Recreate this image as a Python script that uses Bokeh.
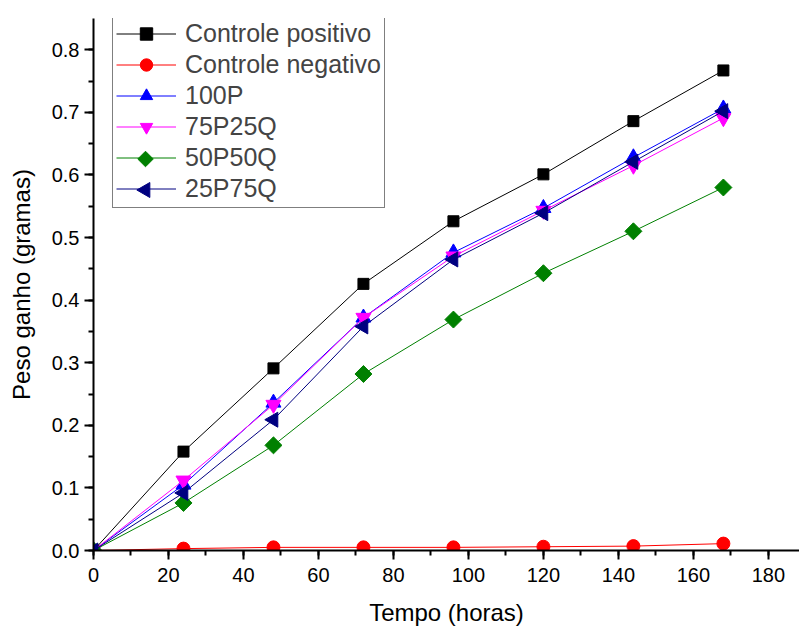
import numpy as np
from bokeh.plotting import figure
from bokeh.models import (Legend, LegendItem, SingleIntervalTicker, PrintfTickFormatter, Range1d)
from bokeh.embed import file_html
from bokeh.resources import INLINE

tempo = [0, 24, 48, 72, 96, 120, 144, 168]
controle_positivo = [0.0, 0.158, 0.291, 0.426, 0.526, 0.601, 0.686, 0.767]
controle_negativo = [0.0, 0.003, 0.005, 0.005, 0.005, 0.006, 0.007, 0.011]
s100P = [0.0, 0.105, 0.236, 0.372, 0.476, 0.547, 0.628, 0.706]
s75P25Q = [0.0, 0.112, 0.233, 0.372, 0.470, 0.543, 0.615, 0.691]
s50P50Q = [0.0, 0.076, 0.168, 0.282, 0.369, 0.443, 0.510, 0.580]
s25P75Q = [0.0, 0.092, 0.209, 0.358, 0.465, 0.539, 0.621, 0.702]

FONT = "Liberation Sans"
W, H = 799, 628
BL, BR, BT, BB = 93, 0, 18, 78
X0, X1, Y0, Y1 = 0, 188.3, 0, 0.85

p = figure(width=W, height=H, output_backend="svg", toolbar_location=None,
           x_range=Range1d(X0, X1), y_range=Range1d(Y0, Y1),
           min_border_left=BL, min_border_right=BR, min_border_top=BT, min_border_bottom=BB)
p.outline_line_color = None
p.xgrid.visible = False
p.ygrid.visible = False

# name, values, colour, plot marker, size, angle (deg)
series = [
    ("Controle positivo", controle_positivo, "#000000", "square", 11, 0.0),
    ("Controle negativo", controle_negativo, "#FF0000", "circle", 13, 0.0),
    ("100P", s100P, "#0000FF", "triangle", 15, 0.0),
    ("75P25Q", s75P25Q, "#FF00FF", "inverted_triangle", 15, 0.0),
    ("50P50Q", s50P50Q, "#008000", "square", 12, 45.0),
    ("25P75Q", s25P75Q, "#000080", "triangle", 15, 90.0),
]

LEG_X, LEG_Y, PAD, ROW, GW = 19, 342, 3, 31, 60
fw = W - BL - BR
fh = H - BT - BB
nrows = len(series)

items = []
for k, (name, ys, color, marker, size, ang) in enumerate(series):
    l = p.line(tempo, ys, line_color=color, line_width=1)
    m = p.scatter(x=tempo, y=ys, marker=marker, size=size,
                  angle=[ang] * len(tempo), angle_units="deg",
                  fill_color=color, line_color=color)
    if ang == 0.0:
        items.append(LegendItem(label=name, renderers=[l, m]))
    else:
        # Bokeh legends do not rotate markers: draw this legend marker beneath
        # the (transparent) legend at the centre of its glyph slot
        items.append(LegendItem(label=name, renderers=[l]))
        sx = LEG_X + PAD + GW / 2
        sy = LEG_Y + PAD + (nrows - 1 - k) * ROW + ROW / 2
        p.scatter(x=[X0 + sx / fw * (X1 - X0)], y=[Y0 + sy / fh * (Y1 - Y0)],
                  marker=marker, size=11 if marker == "square" else 15,
                  angle=[ang], angle_units="deg",
                  fill_color=color, line_color=color)

legend = Legend(items=items, location=(LEG_X, LEG_Y))
legend.label_text_font = FONT
legend.label_text_font_size = "25px"
legend.border_line_color = "black"
legend.border_line_width = 1
legend.glyph_width = GW
legend.glyph_height = ROW
legend.label_height = ROW
legend.spacing = 0
legend.padding = PAD
legend.margin = 0
legend.label_standoff = 9
legend.background_fill_alpha = 0
p.add_layout(legend)

for ax in (p.xaxis[0], p.yaxis[0]):
    ax.axis_line_width = 2
    ax.major_tick_line_width = 2
    ax.minor_tick_line_width = 2
    ax.major_tick_out = 9
    ax.major_tick_in = 0
    ax.minor_tick_out = 5
    ax.minor_tick_in = 0
    ax.major_label_text_font = FONT
    ax.major_label_text_font_size = "20px"
    ax.major_label_text_color = "black"
    ax.axis_label_text_font = FONT
    ax.axis_label_text_font_size = "24px"
    ax.axis_label_text_font_style = "normal"
    ax.axis_label_text_color = "black"

p.xaxis.ticker = SingleIntervalTicker(interval=20, num_minor_ticks=2)
p.yaxis.ticker = SingleIntervalTicker(interval=0.1, num_minor_ticks=2)
p.yaxis.formatter = PrintfTickFormatter(format="%.1f")
p.xaxis.axis_label = "Tempo (horas)"
p.yaxis.axis_label = "Peso ganho (gramas)"
p.xaxis.major_label_standoff = 8
p.yaxis.major_label_standoff = 5
p.xaxis.axis_label_standoff = 14
p.yaxis.axis_label_standoff = 14

open("out.html", "w").write(file_html(p, INLINE))
